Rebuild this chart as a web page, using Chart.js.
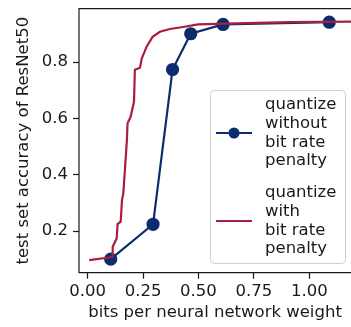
<!DOCTYPE html>
<html>
<head>
<meta charset="utf-8">
<title>ResNet50 accuracy vs bits</title>
<script src="https://cdn.jsdelivr.net/npm/chart.js@4.4.1/dist/chart.umd.min.js"></script>
<style>
  html, body { margin: 0; padding: 0; background: #fff; }
  #wrap { width: 351px; height: 327px; }
</style>
</head>
<body>
<div id="wrap"><canvas id="chart" width="351" height="327"></canvas></div>
<script>
// quantize without bit rate penalty (markers)
const plainBits = [0.104, 0.295, 0.383, 0.465, 0.611, 1.09];
const plainAcc = [0.100, 0.224, 0.774, 0.901, 0.934, 0.942];

// quantize with bit rate penalty (line only)
const penaltyBits = [0.007, 0.105, 0.110, 0.113, 0.131, 0.135, 0.149, 0.155, 0.161, 0.168,
  0.177, 0.180, 0.194, 0.209, 0.213, 0.236, 0.244, 0.266, 0.293, 0.326,
  0.371, 0.430, 0.498, 0.629, 0.913, 1.188];
const penaltyAcc = [0.097, 0.107, 0.109, 0.144, 0.174, 0.225, 0.233, 0.310, 0.334, 0.417,
  0.523, 0.583, 0.606, 0.659, 0.773, 0.780, 0.813, 0.855, 0.890, 0.908,
  0.918, 0.925, 0.934, 0.937, 0.942, 0.944];

const xTicks = [0, 0.25, 0.5, 0.75, 1.0];
const yTicks = [0.2, 0.4, 0.6, 0.8];

const seriesLabels = [
  ['quantize', 'without', 'bit rate', 'penalty'],
  ['quantize', 'with', 'bit rate', 'penalty']
];

const BLUE = '#0b2c6f';
const RED = '#ab1d3d';
const INK = '#1a1a1a';
const FONT = { family: 'DejaVu Sans', size: 16.5 };

function toPoints(xs, ys) {
  return xs.map((x, i) => ({ x, y: ys[i] }));
}

// chart.js pads the plot for edge tick labels; the figure doesn't
function noEdgePadding(s) {
  s.paddingTop = 0;
  s.paddingBottom = 0;
  s.paddingLeft = 0;
  s.paddingRight = 0;
}

// spines on left, top and bottom (the right one sits past the canvas edge)
const spines = {
  id: 'spines',
  afterDatasetsDraw(chart) {
    const { ctx, chartArea: a } = chart;
    ctx.save();
    ctx.strokeStyle = INK;
    ctx.lineWidth = 1.2;
    ctx.beginPath();
    ctx.moveTo(a.right + 2, a.top);
    ctx.lineTo(a.left, a.top);
    ctx.lineTo(a.left, a.bottom);
    ctx.lineTo(a.right + 2, a.bottom);
    ctx.stroke();
    ctx.restore();
  }
};

// matplotlib-like legend box with wrapped labels
const boxLegend = {
  id: 'boxLegend',
  afterDraw(chart) {
    const { ctx } = chart;
    const box = { x: 210.5, y: 90.5, w: 135, h: 173 };
    ctx.save();
    ctx.beginPath();
    ctx.roundRect(box.x, box.y, box.w, box.h, 4);
    ctx.fillStyle = 'rgba(255,255,255,0.8)';
    ctx.fill();
    ctx.strokeStyle = '#d0d0d0';
    ctx.lineWidth = 1;
    ctx.stroke();

    const centers = [133, 221];
    const lineH = 18.8;
    chart.data.datasets.forEach((ds, i) => {
      const cy = centers[i];
      ctx.strokeStyle = ds.borderColor;
      ctx.lineWidth = 2.2;
      ctx.beginPath();
      ctx.moveTo(216, cy);
      ctx.lineTo(252, cy);
      ctx.stroke();
      if (ds.pointRadius > 0) {
        ctx.fillStyle = ds.borderColor;
        ctx.beginPath();
        ctx.arc(234, cy, ds.pointRadius, 0, Math.PI * 2);
        ctx.fill();
      }
      const lines = seriesLabels[i];
      ctx.fillStyle = INK;
      ctx.font = `${FONT.size}px ${FONT.family}`;
      ctx.textAlign = 'left';
      ctx.textBaseline = 'middle';
      const top = cy - (lines.length - 1) * lineH / 2;
      lines.forEach((t, k) => ctx.fillText(t, 265, top + k * lineH));
    });
    ctx.restore();
  }
};

new Chart(document.getElementById('chart'), {
  type: 'scatter',
  data: {
    datasets: [
      {
        label: seriesLabels[0].join(' '),
        data: toPoints(plainBits, plainAcc),
        showLine: true,
        borderColor: BLUE,
        backgroundColor: BLUE,
        borderWidth: 2.2,
        pointRadius: 5.5,
        pointHoverRadius: 5.5,
        order: 1
      },
      {
        label: seriesLabels[1].join(' '),
        data: toPoints(penaltyBits, penaltyAcc),
        showLine: true,
        borderColor: RED,
        backgroundColor: RED,
        borderWidth: 2.2,
        pointRadius: 0,
        order: 0
      }
    ]
  },
  options: {
    responsive: false,
    animation: false,
    layout: { autoPadding: false, padding: { top: 8.7, right: 0, left: 0, bottom: 0 } },
    plugins: {
      legend: { display: false },
      tooltip: { enabled: false }
    },
    scales: {
      x: {
        type: 'linear',
        min: -0.039,
        max: 1.188,
        afterBuildTicks: (s) => { s.ticks = xTicks.map(v => ({ value: v })); },
        afterFit: (s) => { s.height = 54.3; noEdgePadding(s); },
        border: { display: false },
        grid: { drawOnChartArea: false, drawTicks: true, tickLength: 6, tickColor: INK, tickWidth: 1.2 },
        ticks: {
          color: INK,
          font: FONT,
          padding: 3,
          maxRotation: 0,
          callback: (v) => Number(v).toFixed(2)
        },
        title: {
          display: true,
          text: 'bits per neural network weight',
          color: INK,
          font: FONT,
          padding: { top: 0, bottom: 4 }
        }
      },
      y: {
        type: 'linear',
        min: 0.052,
        max: 0.99,
        afterBuildTicks: (s) => { s.ticks = yTicks.map(v => ({ value: v })); },
        afterFit: (s) => { s.width = 79; noEdgePadding(s); },
        border: { display: false },
        grid: { drawOnChartArea: false, drawTicks: true, tickLength: 6, tickColor: INK, tickWidth: 1.2 },
        ticks: {
          color: INK,
          font: FONT,
          padding: 5,
          callback: (v) => Number(v).toFixed(1)
        },
        title: {
          display: true,
          text: 'test set accuracy of ResNet50',
          color: INK,
          font: FONT,
          padding: { top: 14, bottom: 0 }
        }
      }
    }
  },
  plugins: [spines, boxLegend]
});
</script>
</body>
</html>
